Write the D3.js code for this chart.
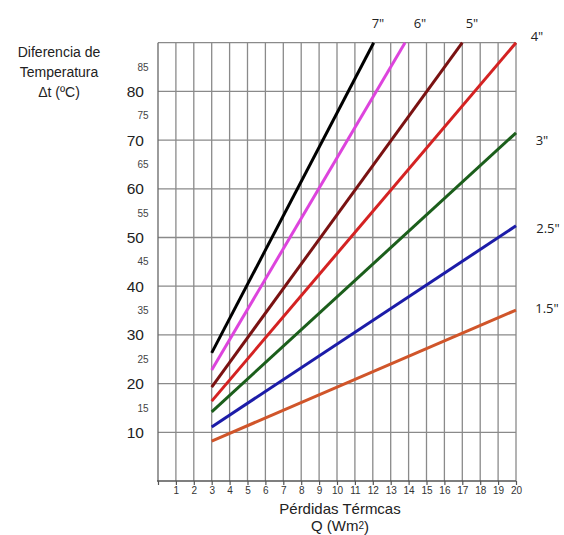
<!DOCTYPE html>
<html><head><meta charset="utf-8">
<script src="https://cdn.jsdelivr.net/npm/d3@7"></script>
<style>body{margin:0;background:#fff}svg{display:block}</style>
</head><body>
<script>
const seriesNames = ['1.5"', '2.5"', '3"', '4"', '5"', '6"', '7"'];
const seriesX = [[3, 20], [3, 20], [3, 20], [3, 20], [3, 17.0], [3, 13.8], [3, 12.05]];
const seriesY = [[8.2, 35.1], [11.1, 52.4], [14.2, 71.5], [16.4, 90], [19.3, 90], [22.8, 90], [26.3, 90]];
const seriesColors = ['#d0552a', '#1c1ca8', '#1b5e1b', '#d42222', '#7a1212', '#dd44dd', '#000000'];
const labelPos = [[547, 308], [548, 228], [542, 140], [537, 36], [472, 23], [420, 23], [378, 23]];
const xTicks = d3.range(1, 21);
const yMajor = [10, 20, 30, 40, 50, 60, 70, 80];
const yMinor = [15, 25, 35, 45, 55, 65, 75, 85];

const W = 564, H = 535;
const svg = d3.select('body').append('svg').attr('width', W).attr('height', H);
const x = d3.scaleLinear().domain([0, 20]).range([158, 516]);
const y = d3.scaleLinear().domain([0, 90]).range([481, 42.7]);
const font = 'Liberation Sans, Arial, sans-serif';

const g = svg.append('g');
// vertical grid
g.selectAll('.vg').data(xTicks).enter().append('line')
  .attr('x1', d => x(d)).attr('x2', d => x(d)).attr('y1', y(90)).attr('y2', y(0))
  .attr('stroke', '#8a8a8a').attr('stroke-width', 1.3);
// horizontal grid
g.selectAll('.hg').data(yMajor.concat([90])).enter().append('line')
  .attr('x1', x(0)).attr('x2', x(20)).attr('y1', d => y(d)).attr('y2', d => y(d))
  .attr('stroke', '#8a8a8a').attr('stroke-width', 1.3);
// left border
g.append('line').attr('x1', x(0)).attr('x2', x(0)).attr('y1', y(90)).attr('y2', y(0))
  .attr('stroke', '#666').attr('stroke-width', 1.3);

// bottom axis
const xAxis = d3.axisBottom(x).tickValues(d3.range(0, 21)).tickSize(4).tickFormat(d => d === 0 ? '' : d);
const ax = svg.append('g').attr('transform', `translate(0,${y(0)})`).call(xAxis);
ax.select('.domain').attr('stroke', '#555').attr('stroke-width', 1.3).attr('d', `M${x(0)-1},0H${x(20)}`);
ax.selectAll('.tick line').attr('stroke', '#555').attr('stroke-width', 1.2);
ax.selectAll('.tick text').attr('font-family', font).attr('font-size', 10).attr('fill', '#333').attr('dy', '0.55em');

// y labels
svg.selectAll('.ym').data(yMajor).enter().append('text')
  .attr('x', 144).attr('y', d => y(d)).attr('dy', '0.36em').attr('text-anchor', 'end')
  .attr('font-family', font).attr('font-size', 15.5).attr('fill', '#222').text(d => d);
svg.selectAll('.yn').data(yMinor).enter().append('text')
  .attr('x', 148.5).attr('y', d => y(d)).attr('dy', '0.36em').attr('text-anchor', 'end')
  .attr('font-family', font).attr('font-size', 10).attr('fill', '#444').text(d => d);

// lines
const line = d3.line().x(d => x(d[0])).y(d => y(d[1]));
seriesNames.forEach((n, i) => {
  const pts = seriesX[i].map((xv, j) => [xv, seriesY[i][j]]);
  svg.append('path').attr('d', line(pts)).attr('fill', 'none')
    .attr('stroke', seriesColors[i]).attr('stroke-width', 3);
  svg.append('text').attr('x', labelPos[i][0]).attr('y', labelPos[i][1]).attr('dy', '0.36em')
    .attr('text-anchor', 'middle').attr('font-family', 'Open Sans, sans-serif').attr('font-size', 13)
    .attr('fill', '#222').text(n);
});

// titles
const yt = ['Diferencia de', 'Temperatura', '\u0394t (\u00baC)'];
svg.selectAll('.yt').data(yt).enter().append('text')
  .attr('x', 59).attr('y', (d, i) => 52 + i * 20).attr('dy', '0.36em').attr('text-anchor', 'middle')
  .attr('font-family', font).attr('font-size', 14).attr('fill', '#222').text(d => d);
svg.append('text').attr('x', 340).attr('y', 509).attr('dy', '0.36em').attr('text-anchor', 'middle')
  .attr('font-family', font).attr('font-size', 15).attr('fill', '#222').text('P\u00e9rdidas T\u00e9rmcas');
const q = svg.append('text').attr('x', 340).attr('y', 526).attr('dy', '0.36em').attr('text-anchor', 'middle')
  .attr('font-family', font).attr('font-size', 15).attr('fill', '#222');
q.append('tspan').text('Q (Wm');
q.append('tspan').attr('font-size', 10).attr('dy', '-0.2em').text('2');
q.append('tspan').attr('dy', '0.14em').text(')');
</script>
</body></html>
